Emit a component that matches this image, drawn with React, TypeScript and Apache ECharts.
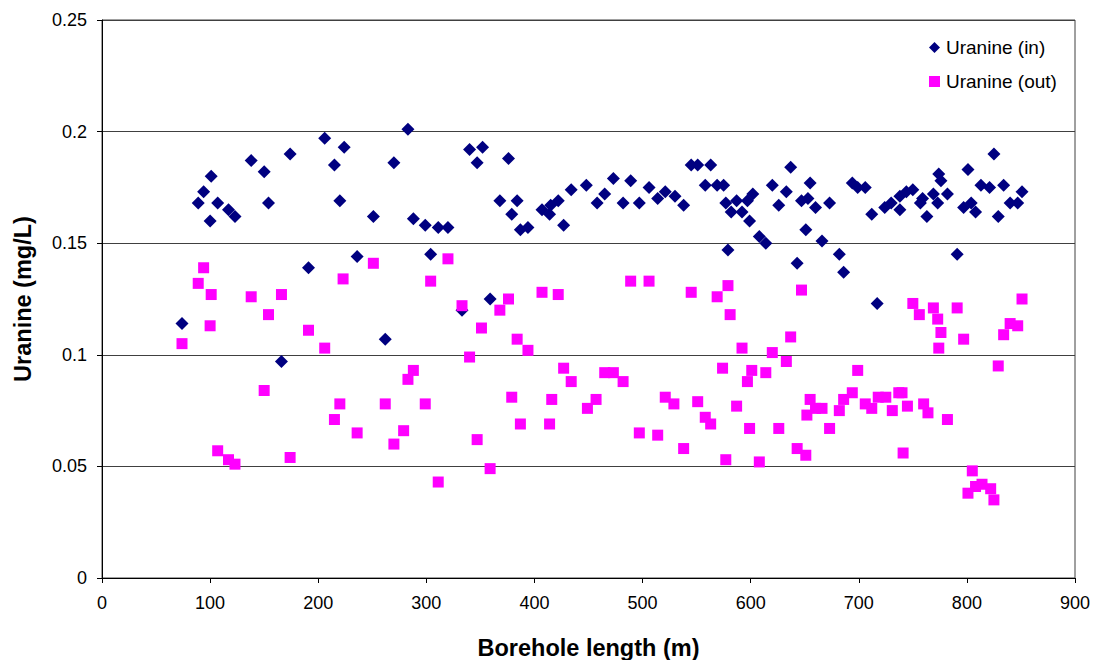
import React, { useEffect, useRef } from "react";
import * as echarts from "echarts";

// Borehole positions (m) and measured uranine concentration (mg/L) — inflow
const lengthIn = [
  74, 89, 94, 101, 100, 107, 117, 123, 138, 150, 154, 166, 174, 191, 206, 215, 220, 224, 236, 251,
  262, 270, 283, 288, 299, 304, 311, 320, 333, 340, 347, 352, 359, 368, 376, 379, 384, 387, 394, 407,
  414, 415, 422, 427, 434, 448, 458, 465, 473, 482, 489, 497, 506, 514, 521, 530, 538, 545, 551, 558,
  563, 569, 575, 577, 579, 582, 587, 592, 597, 599, 602, 608, 614, 620, 626, 633, 637, 643, 647, 651,
  653, 655, 660, 666, 673, 682, 686, 694, 699, 706, 712, 717, 724, 730, 738, 738, 744, 750, 757, 759,
  763, 769, 773, 774, 776, 782, 791, 797, 801, 804, 808, 813, 821, 825, 829, 834, 840, 847, 851,
];
const uranineIn = [
  0.114, 0.168, 0.173, 0.18, 0.16, 0.168, 0.165, 0.162, 0.187, 0.182, 0.168, 0.097, 0.19, 0.139, 0.197, 0.185, 0.169, 0.193, 0.144, 0.162,
  0.107, 0.186, 0.201, 0.161, 0.158, 0.145, 0.157, 0.157, 0.12, 0.192, 0.186, 0.193, 0.125, 0.169, 0.188, 0.163, 0.169, 0.156, 0.157, 0.165,
  0.163, 0.167, 0.169, 0.158, 0.174, 0.176, 0.168, 0.172, 0.179, 0.168, 0.178, 0.168, 0.175, 0.17, 0.173, 0.171, 0.167, 0.185, 0.185, 0.176,
  0.185, 0.176, 0.176, 0.168, 0.147, 0.164, 0.169, 0.164, 0.169, 0.16, 0.172, 0.153, 0.15, 0.176, 0.167, 0.173, 0.184, 0.141, 0.169, 0.156,
  0.17, 0.177, 0.166, 0.151, 0.168, 0.145, 0.137, 0.177, 0.175, 0.175, 0.163, 0.123, 0.166, 0.168, 0.165, 0.171, 0.173, 0.174, 0.168, 0.17,
  0.162, 0.172, 0.168, 0.181, 0.178, 0.172, 0.145, 0.166, 0.183, 0.168, 0.164, 0.176, 0.175, 0.19, 0.162, 0.176, 0.168, 0.168, 0.173,
];

// Borehole positions (m) and measured uranine concentration (mg/L) — outflow
const lengthOut = [
  74, 89, 94, 101, 100, 107, 117, 123, 138, 150, 154, 166, 174, 191, 206, 215, 220, 223, 236, 251,
  262, 270, 279, 283, 288, 299, 304, 311, 320, 333, 340, 347, 351, 359, 368, 376, 379, 384, 387, 394,
  407, 414, 416, 422, 427, 434, 449, 457, 465, 473, 482, 489, 497, 506, 514, 521, 529, 538, 545, 551,
  558, 563, 569, 574, 577, 579, 581, 587, 592, 597, 599, 601, 608, 614, 620, 626, 633, 637, 643, 647,
  651, 652, 655, 660, 666, 673, 682, 686, 694, 699, 706, 712, 718, 725, 731, 737, 740, 741, 745, 750,
  756, 760, 764, 769, 773, 774, 776, 782, 791, 797, 801, 805, 808, 814, 822, 825, 829, 834, 840, 847,
  851,
];
const uranineOut = [
  0.105, 0.132, 0.139, 0.127, 0.113, 0.057, 0.053, 0.051, 0.126, 0.084, 0.118, 0.127, 0.054, 0.111, 0.103, 0.071, 0.078, 0.134, 0.065, 0.141,
  0.078, 0.06, 0.066, 0.089, 0.093, 0.078, 0.133, 0.043, 0.143, 0.122, 0.099, 0.062, 0.112, 0.049, 0.12, 0.125, 0.081, 0.107, 0.069, 0.102,
  0.128, 0.069, 0.08, 0.127, 0.094, 0.088, 0.076, 0.08, 0.092, 0.092, 0.088, 0.133, 0.065, 0.133, 0.064, 0.081, 0.078, 0.058, 0.128, 0.079,
  0.072, 0.069, 0.126, 0.094, 0.053, 0.131, 0.118, 0.077, 0.103, 0.088, 0.067, 0.093, 0.052, 0.092, 0.101, 0.067, 0.097, 0.108, 0.058, 0.129,
  0.055, 0.073, 0.08, 0.076, 0.076, 0.067, 0.075, 0.08, 0.083, 0.093, 0.078, 0.076, 0.081, 0.081, 0.075, 0.083, 0.083, 0.056, 0.077, 0.123,
  0.118, 0.078, 0.074, 0.121, 0.116, 0.103, 0.11, 0.071, 0.121, 0.107, 0.038, 0.048, 0.041, 0.042, 0.04, 0.035, 0.095, 0.109, 0.114, 0.113,
  0.125,
];

const seriesNames = ["Uranine (in)", "Uranine (out)"];
const yTicks = [0, 0.05, 0.1, 0.15, 0.2, 0.25];
const xTicks = [0, 100, 200, 300, 400, 500, 600, 700, 800, 900];

const FONT = "'Liberation Sans', Arial, Helvetica, sans-serif";

export default function App() {
  const ref = useRef<HTMLDivElement>(null);

  useEffect(() => {
    if (!ref.current) return;
    const chart = echarts.init(ref.current, undefined, { renderer: "svg" });

    const inData = lengthIn.map((x, i) => [x, uranineIn[i]]);
    const outData = lengthOut.map((x, i) => [x, uranineOut[i]]);

    chart.setOption({
      animation: false,
      backgroundColor: "#ffffff",
      textStyle: { fontFamily: FONT },
      grid: {
        left: 102,
        right: 18,
        top: 20,
        bottom: 82,
        outerBoundsMode: "none",
        containLabel: false,
        show: true,
        borderColor: "#404040",
        borderWidth: 1,
        backgroundColor: "transparent",
      },
      legend: {
        orient: "vertical",
        left: 924,
        top: 33,
        itemWidth: 11,
        itemHeight: 11,
        itemGap: 15,
        textStyle: { fontFamily: FONT, fontSize: 19, color: "#000", padding: [0, 0, 0, 1] },
        data: [
          { name: seriesNames[0], icon: "diamond" },
          { name: seriesNames[1], icon: "rect" },
        ],
      },
      xAxis: {
        type: "value",
        min: xTicks[0],
        max: xTicks[xTicks.length - 1],
        interval: 100,
        name: "Borehole length (m)",
        nameLocation: "middle",
        nameGap: 58,
        nameTextStyle: { fontFamily: FONT, fontSize: 23.5, fontWeight: "bold", color: "#000" },
        axisLine: { show: true, lineStyle: { color: "#000", width: 1 } },
        axisTick: { show: true, length: 5, lineStyle: { color: "#000" } },
        axisLabel: { fontFamily: FONT, fontSize: 18, color: "#000", margin: 16 },
        splitLine: { show: false },
      },
      yAxis: {
        type: "value",
        min: yTicks[0],
        max: yTicks[yTicks.length - 1],
        interval: 0.05,
        name: "Uranine (mg/L)",
        nameLocation: "middle",
        nameGap: 67,
        nameTextStyle: { fontFamily: FONT, fontSize: 23.5, fontWeight: "bold", color: "#000" },
        axisLine: { show: true, lineStyle: { color: "#000", width: 1 } },
        axisTick: { show: true, length: 5, lineStyle: { color: "#000" } },
        axisLabel: { fontFamily: FONT, fontSize: 18, color: "#000", margin: 15 },
        splitLine: { show: true, lineStyle: { color: "#404040", width: 1 } },
      },
      series: [
        {
          name: seriesNames[0],
          type: "scatter",
          symbol: "diamond",
          symbolSize: 13,
          itemStyle: { color: "#000080", opacity: 1 },
          data: inData,
        },
        {
          name: seriesNames[1],
          type: "scatter",
          symbol: "rect",
          symbolSize: 11,
          itemStyle: { color: "#ff00ff", opacity: 1 },
          data: outData,
        },
      ],
    });

    return () => chart.dispose();
  }, []);

  return (
    <div
      ref={ref}
      style={{ position: "fixed", left: 0, top: 0, width: 1093, height: 660, background: "#fff" }}
    />
  );
}
